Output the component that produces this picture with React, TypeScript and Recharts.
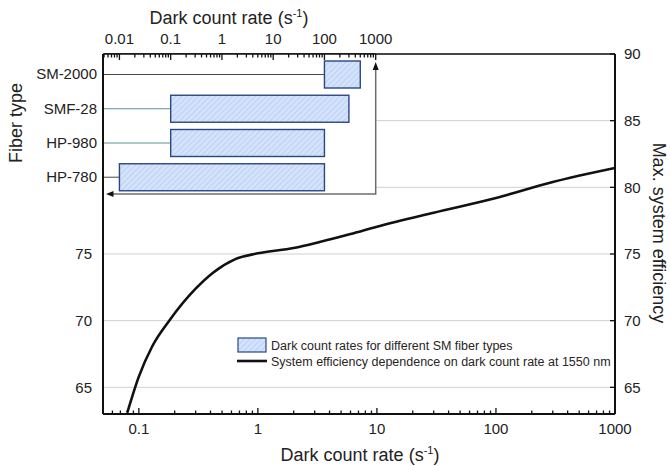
import React from 'react';
import { LineChart, Line, XAxis, YAxis, CartesianGrid, ReferenceLine, BarChart, Bar } from 'recharts';

// system efficiency vs dark count rate
const rates = [0.08, 0.1, 0.13, 0.18, 0.3, 0.42, 0.64, 1, 2, 3.3, 6, 10, 30, 100, 300, 1000];
const efficiency = [63.1, 65.8, 68.1, 70.0, 72.4, 73.6, 74.6, 75.05, 75.45, 75.9, 76.5, 77.05, 78.1, 79.2, 80.4, 81.45];

// dark count ranges per fiber type
const fiberTypes = ['SM-2000', 'SMF-28', 'HP-980', 'HP-780'];
const darkMin = [100, 0.1, 0.1, 0.01];
const darkMax = [500, 300, 100, 100];

const bottomMajorTicks = [0.1, 1, 10, 100, 1000];
const topMajorTicks = [0.01, 0.1, 1, 10, 100, 1000];
const minorSteps = [2, 3, 4, 5, 6, 7, 8, 9];
const leftTicks = [65, 70, 75];
const rightTicks = [65, 70, 75, 80, 85, 90];

const W = 670;
const H = 466;
const FONT = '"Liberation Sans", Arial, sans-serif';

// main plot box
const PLOT = { left: 103, right: 615, top: 54, bottom: 414 };
// inset box
const INSET = { left: 104, right: 375.7, top: 54, bottom: 194 };

const TICK_MARGIN = 10;

const connectorColor: Record<string, string> = {
  'SM-2000': '#4a4a4a',
  'SMF-28': '#5f928e',
  'HP-980': '#5f928e',
  'HP-780': '#666666',
};

const effData = rates.map((r, i) => ({ rate: r, eff: efficiency[i] }));
const fiberData = fiberTypes.map((name, i) => ({ name, range: [darkMin[i], darkMax[i]] }));

const withMinors = (majors: number[], lo: number, hi: number) => {
  const out: number[] = [];
  [majors[0] / 10, ...majors].forEach((d) => {
    out.push(d);
    minorSteps.forEach((s) => out.push(d * s));
  });
  return out.filter((v) => v >= lo * 0.999 && v <= hi * 1.001);
};

const isMajor = (v: number) => Math.abs(Math.log10(v) - Math.round(Math.log10(v))) < 1e-6;
const fmt = (v: number) => String(Number(v.toPrecision(3)));

const BottomTick = (props: any) => {
  const { x, y, payload } = props;
  const v = payload.value;
  const major = isMajor(v);
  const axisY = y - TICK_MARGIN;
  return (
    <g>
      <line x1={x} x2={x} y1={axisY} y2={axisY - (major ? 6 : 3.5)} stroke="#111" strokeWidth={1.3} />
      {major && (
        <text x={x} y={axisY + 20} textAnchor="middle" fontSize={15} fill="#222">
          {fmt(v)}
        </text>
      )}
    </g>
  );
};

const TopTick = (props: any) => {
  const { x, y, payload } = props;
  const v = payload.value;
  const major = isMajor(v);
  const axisY = y + TICK_MARGIN;
  return (
    <g>
      <line x1={x} x2={x} y1={axisY} y2={axisY + (major ? 6 : 3.5)} stroke="#111" strokeWidth={1.3} />
      {major && (
        <text x={x} y={axisY - 10} textAnchor="middle" fontSize={15} fill="#222">
          {fmt(v)}
        </text>
      )}
    </g>
  );
};

const RightTick = (props: any) => {
  const { x, y, payload } = props;
  const axisX = x - TICK_MARGIN;
  return (
    <g>
      <line x1={axisX - 5} x2={axisX} y1={y} y2={y} stroke="#111" strokeWidth={1.3} />
      <text x={axisX + 9} y={y} dy="0.36em" textAnchor="start" fontSize={15} fill="#222">
        {payload.value}
      </text>
    </g>
  );
};

const FiberBar = (props: any) => {
  const { x, y, width, height, payload } = props;
  const cy = y + height / 2;
  return (
    <g>
      <line x1={INSET.left} x2={x} y1={cy} y2={cy} stroke={connectorColor[payload.name]} strokeWidth={1.2} />
      <rect x={x} y={y} width={width} height={height} fill="url(#fiberHatch)" stroke="#2a4785" strokeWidth={1.4} />
    </g>
  );
};

const Hatch = ({ id }: { id: string }) => (
  <pattern id={id} patternUnits="userSpaceOnUse" width={4} height={4} patternTransform="rotate(45)">
    <rect width={4} height={4} fill="#d4e3fb" />
    <line x1={0} y1={0} x2={0} y2={4} stroke="#b3cbf1" strokeWidth={1.5} />
  </pattern>
);

const RateTitle = ({ x, y }: { x: number; y: number }) => (
  <text x={x} y={y} textAnchor="middle" fontSize={18} fill="#222">
    Dark count rate (s
    <tspan fontSize={11} dy={-7}>-1</tspan>
    <tspan dy={7}>)</tspan>
  </text>
);

const App: React.FC = () => {
  const bottomTicks = withMinors(bottomMajorTicks, 0.05, 1000);
  const topTicks = withMinors(topMajorTicks, 0.005, 1000);

  return (
    <div style={{ position: 'absolute', left: 0, top: 0, width: W, height: H, background: '#fff', fontFamily: FONT, overflow: 'hidden' }}>
      {/* main chart */}
      <div style={{ position: 'absolute', left: 0, top: 0 }}>
        <LineChart
          width={W}
          height={H}
          data={effData}
          margin={{ top: PLOT.top, right: 0, bottom: 0, left: 0 }}
        >
          <CartesianGrid yAxisId="right" vertical={false} stroke="#cfcfcf" />
          <XAxis
            dataKey="rate"
            type="number"
            scale="log"
            domain={[0.05, 1000]}
            allowDataOverflow
            ticks={bottomTicks}
            interval={0}
            height={H - PLOT.bottom}
            tickSize={0}
            tickMargin={TICK_MARGIN}
            tick={<BottomTick />}
            axisLine={{ stroke: '#111', strokeWidth: 2 }}
          />
          <YAxis
            yAxisId="left"
            type="number"
            domain={[63, 90]}
            allowDataOverflow
            ticks={leftTicks}
            width={PLOT.left}
            tickSize={0}
            tickMargin={11}
            tick={{ fontSize: 15, fill: '#222' }}
            axisLine={{ stroke: '#111', strokeWidth: 2 }}
          />
          <YAxis
            yAxisId="right"
            orientation="right"
            type="number"
            domain={[63, 90]}
            allowDataOverflow
            ticks={rightTicks}
            interval={0}
            width={W - PLOT.right}
            tickSize={0}
            tickMargin={TICK_MARGIN}
            tick={<RightTick />}
            axisLine={{ stroke: '#111', strokeWidth: 2 }}
          />
          <ReferenceLine yAxisId="right" y={90} stroke="#111" strokeWidth={1.5} />
          <Line
            yAxisId="right"
            dataKey="eff"
            type="monotone"
            stroke="#111"
            strokeWidth={2.6}
            dot={false}
            isAnimationActive={false}
          />
        </LineChart>
      </div>

      {/* inset: dark count rates per fiber type */}
      <div style={{ position: 'absolute', left: 0, top: 0 }}>
        <BarChart
          width={W}
          height={H}
          data={fiberData}
          layout="vertical"
          margin={{ top: 0, right: W - INSET.right, bottom: H - INSET.bottom, left: 0 }}
        >
          <defs>
            <Hatch id="fiberHatch" />
          </defs>
          <CartesianGrid horizontal={false} vertical={false} fill="#fff" fillOpacity={1} />
          <XAxis
            xAxisId={0}
            orientation="top"
            type="number"
            scale="log"
            domain={[0.005, 1000]}
            allowDataOverflow
            ticks={topTicks}
            interval={0}
            height={INSET.top}
            tickSize={0}
            tickMargin={TICK_MARGIN}
            tick={<TopTick />}
            axisLine={{ stroke: '#111', strokeWidth: 1.5 }}
          />
          <YAxis
            type="category"
            dataKey="name"
            width={INSET.left}
            padding={{ top: 3, bottom: 0 }}
            tickSize={0}
            tickMargin={7}
            tick={{ fontSize: 15, fill: '#222' }}
            axisLine={false}
          />
          <Bar dataKey="range" barSize={27} shape={<FiberBar />} isAnimationActive={false} />
        </BarChart>
      </div>

      {/* titles, inset frame arrows, legend */}
      <svg width={W} height={H} style={{ position: 'absolute', left: 0, top: 0, pointerEvents: 'none', fontFamily: FONT }}>
        <defs>
          <Hatch id="legendHatch" />
        </defs>
        <RateTitle x={229} y={24} />
        <RateTitle x={360} y={461} />
        <text x={21.5} y={123} textAnchor="middle" fontSize={18} fill="#222" transform="rotate(-90 21.5 123)">
          Fiber type
        </text>
        <text x={653} y={233} textAnchor="middle" fontSize={18} fill="#222" transform="rotate(90 653 233)">
          Max. system efficiency
        </text>

        {/* inset frame with arrows */}
        <line x1={INSET.right} y1={INSET.bottom} x2={112} y2={INSET.bottom} stroke="#6e6e6e" strokeWidth={1.5} />
        <polygon points={`106,${INSET.bottom} 113.5,${INSET.bottom - 3} 113.5,${INSET.bottom + 3}`} fill="#111" />
        <line x1={INSET.right} y1={INSET.bottom + 0.75} x2={INSET.right} y2={68} stroke="#6e6e6e" strokeWidth={1.5} />
        <polygon points={`${INSET.right},62 ${INSET.right - 3},70 ${INSET.right + 3},70`} fill="#111" />

        {/* legend */}
        <rect x={238} y={338} width={28} height={14} fill="url(#legendHatch)" stroke="#2a4785" strokeWidth={1.2} />
        <text x={271} y={349.5} fontSize={12.5} fill="#2a2424">
          Dark count rates for different SM fiber types
        </text>
        <line x1={237} x2={267} y1={361} y2={361} stroke="#111" strokeWidth={2.6} />
        <text x={271} y={366} fontSize={12.5} fill="#2a2424">
          System efficiency dependence on dark count rate at 1550 nm
        </text>
      </svg>
    </div>
  );
};

export default App;
